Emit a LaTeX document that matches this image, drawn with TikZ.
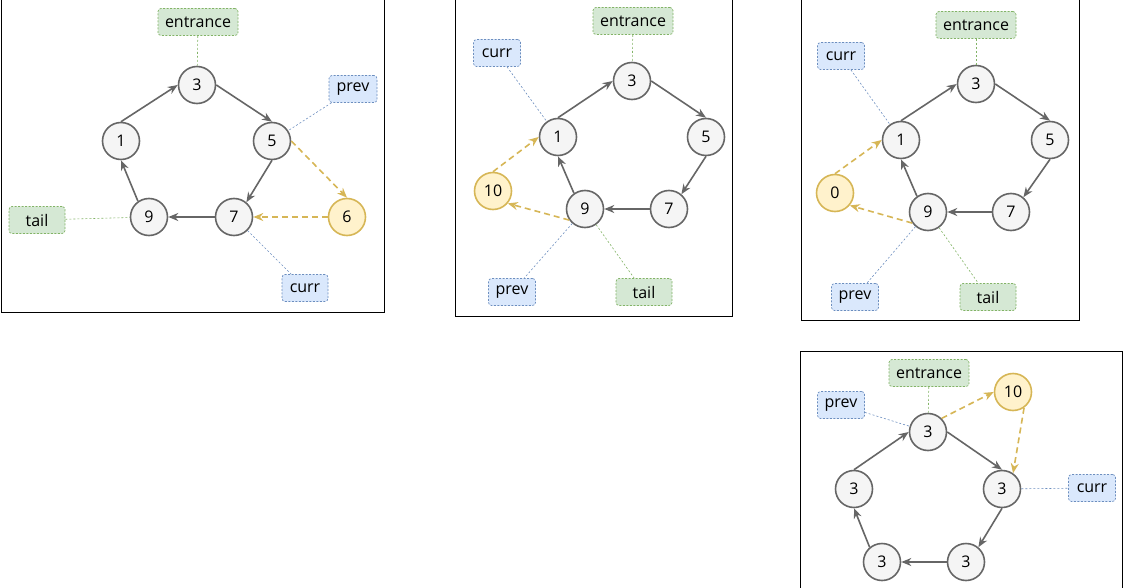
\documentclass[tikz,border=0pt]{standalone}
\usepackage{fontspec}
\setmainfont{Open Sans}
\usetikzlibrary{arrows.meta}
\definecolor{cgray}{HTML}{666666}
\definecolor{cfill}{HTML}{F5F5F5}
\definecolor{gfill}{HTML}{D5E8D4}
\definecolor{gline}{HTML}{82B366}
\definecolor{bfill}{HTML}{DAE8FC}
\definecolor{bline}{HTML}{6C8EBF}
\definecolor{yfill}{HTML}{FFF2CC}
\definecolor{yline}{HTML}{D6B656}
\tikzset{
  frame/.style={draw=black, line width=1pt},
  circ/.style={circle, draw=cgray, fill=cfill, line width=1.6pt, minimum size=37pt, inner sep=0pt, font=\fontsize{16}{18}\selectfont},
  ycirc/.style={circ, draw=yline, fill=yfill},
  lbox/.style={rectangle, rounded corners=3pt, line width=0.7pt, dash pattern=on 2pt off 1.5pt, minimum height=27pt, inner sep=0pt, font=\fontsize{16}{18}\selectfont},
  gbox/.style={lbox, draw=gline, fill=gfill},
  bbox/.style={lbox, draw=bline, fill=bfill},
  arr/.style={draw=cgray, line width=1.6pt, -{Stealth[length=10pt,width=8pt]}},
  yarr/.style={draw=yline, line width=1.6pt, dash pattern=on 6pt off 4pt, -{Stealth[length=10pt,width=8pt]}},
  gdot/.style={draw=gline, line width=0.6pt, dash pattern=on 2pt off 2pt},
  bdot/.style={draw=bline, line width=0.6pt, dash pattern=on 2pt off 2pt},
}
\begin{document}
\begin{tikzpicture}[x=1pt,y=-1pt]
\useasboundingbox (0,0) rectangle (1123,588);
% frames
\draw[frame] (1,-5) rectangle (384,312);
\draw[frame] (455,-5) rectangle (732,316);
\draw[frame] (801,-5) rectangle (1079,320);
\draw[frame] (800,351) rectangle (1122,600);

% ---------- panel 1 ----------
\node[circ] (a3) at (197,85) {3};
\node[circ] (a1) at (121,141) {1};
\node[circ] (a5) at (272,141) {5};
\node[circ] (a9) at (149,217) {9};
\node[circ] (a7) at (234,217) {7};
\node[ycirc] (a6) at (347,217) {6};
\node[gbox, minimum width=80pt] (aent) at (198,22) {entrance};
\node[bbox, minimum width=48pt] (aprev) at (353,89) {prev};
\node[gbox, minimum width=56pt] (atail) at (37,220) {tail};
\node[bbox, minimum width=46pt] (acurr) at (305,288) {curr};
\draw[arr] (a1.north) -- (a3.west);
\draw[arr] (a3.east) -- (a5.north);
\draw[arr] (a5.south) -- (a7.50);
\draw[arr] (a7.west) -- (a9.east);
\draw[arr] (a9.125) -- (a1.south);
\draw[yarr] (a5.east) -- (a6.north);
\draw[yarr] (a6.west) -- (a7.east);
\draw[gdot] (aent) -- (a3);
\draw[bdot] (aprev) -- (a5);
\draw[gdot] (atail) -- (a9);
\draw[bdot] (a7) -- (acurr);

% ---------- panel 2 ----------
\node[circ] (b3) at (632,81) {3};
\node[circ] (b1) at (558,137) {1};
\node[circ] (b5) at (706,137) {5};
\node[circ] (b9) at (585,209) {9};
\node[circ] (b7) at (669,209) {7};
\node[ycirc] (b10) at (493,191) {10};
\node[gbox, minimum width=80pt] (bent) at (633,21) {entrance};
\node[bbox, minimum width=47pt] (bcurr) at (497,53) {curr};
\node[bbox, minimum width=47pt] (bprev) at (512,292) {prev};
\node[gbox, minimum width=56pt] (btail) at (644,292) {tail};
\draw[arr] (b1.north) -- (b3.west);
\draw[arr] (b3.east) -- (b5.north);
\draw[arr] (b5.south) -- (b7.50);
\draw[arr] (b7.west) -- (b9.east);
\draw[arr] (b9.125) -- (b1.south);
\draw[yarr] (b10.north) -- (b1.west);
\draw[yarr] (b9.215) -- (b10.-40);
\draw[gdot] (bent) -- (b3);
\draw[bdot] (bcurr) -- (b1);
\draw[bdot] (b9) -- (bprev);
\draw[gdot] (b9) -- (btail);

% ---------- panel 3 ----------
\node[circ] (c3) at (976,84) {3};
\node[circ] (c1) at (901,140) {1};
\node[circ] (c5) at (1050,140) {5};
\node[circ] (c9) at (928,212) {9};
\node[circ] (c7) at (1011,212) {7};
\node[ycirc] (c0) at (835,193) {0};
\node[gbox, minimum width=80pt] (cent) at (976,25) {entrance};
\node[bbox, minimum width=47pt] (ccurr) at (841,56) {curr};
\node[bbox, minimum width=47pt] (cprev) at (855,297) {prev};
\node[gbox, minimum width=56pt] (ctail) at (988,297) {tail};
\draw[arr] (c1.north) -- (c3.west);
\draw[arr] (c3.east) -- (c5.north);
\draw[arr] (c5.south) -- (c7.50);
\draw[arr] (c7.west) -- (c9.east);
\draw[arr] (c9.125) -- (c1.south);
\draw[yarr] (c0.north) -- (c1.west);
\draw[yarr] (c9.215) -- (c0.-40);
\draw[gdot] (cent) -- (c3);
\draw[bdot] (ccurr) -- (c1);
\draw[bdot] (c9) -- (cprev);
\draw[gdot] (c9) -- (ctail);

% ---------- panel 4 ----------
\node[circ] (dt) at (928,432) {3};
\node[circ] (dl) at (854,489) {3};
\node[circ] (dr) at (1002,489) {3};
\node[circ] (dbl) at (882,562) {3};
\node[circ] (dbr) at (966,562) {3};
\node[ycirc] (d10) at (1013,392) {10};
\node[gbox, minimum width=80pt] (dent) at (929,373) {entrance};
\node[bbox, minimum width=47pt] (dprev) at (841,405) {prev};
\node[bbox, minimum width=47pt] (dcurr) at (1092,488) {curr};
\draw[arr] (dt.east) -- (dr.north);
\draw[arr] (dr.south) -- (dbr.50);
\draw[arr] (dbr.west) -- (dbl.east);
\draw[arr] (dbl.130) -- (dl.south);
\draw[arr] (dl.north) -- (dt.west);
\draw[yarr] (dt.45) -- (d10.west);
\draw[yarr] (d10.-55) -- (dr.55);
\draw[gdot] (dent) -- (dt);
\draw[bdot] (dprev) -- (dt);
\draw[bdot] (dr) -- (dcurr);
\end{tikzpicture}
\end{document}
